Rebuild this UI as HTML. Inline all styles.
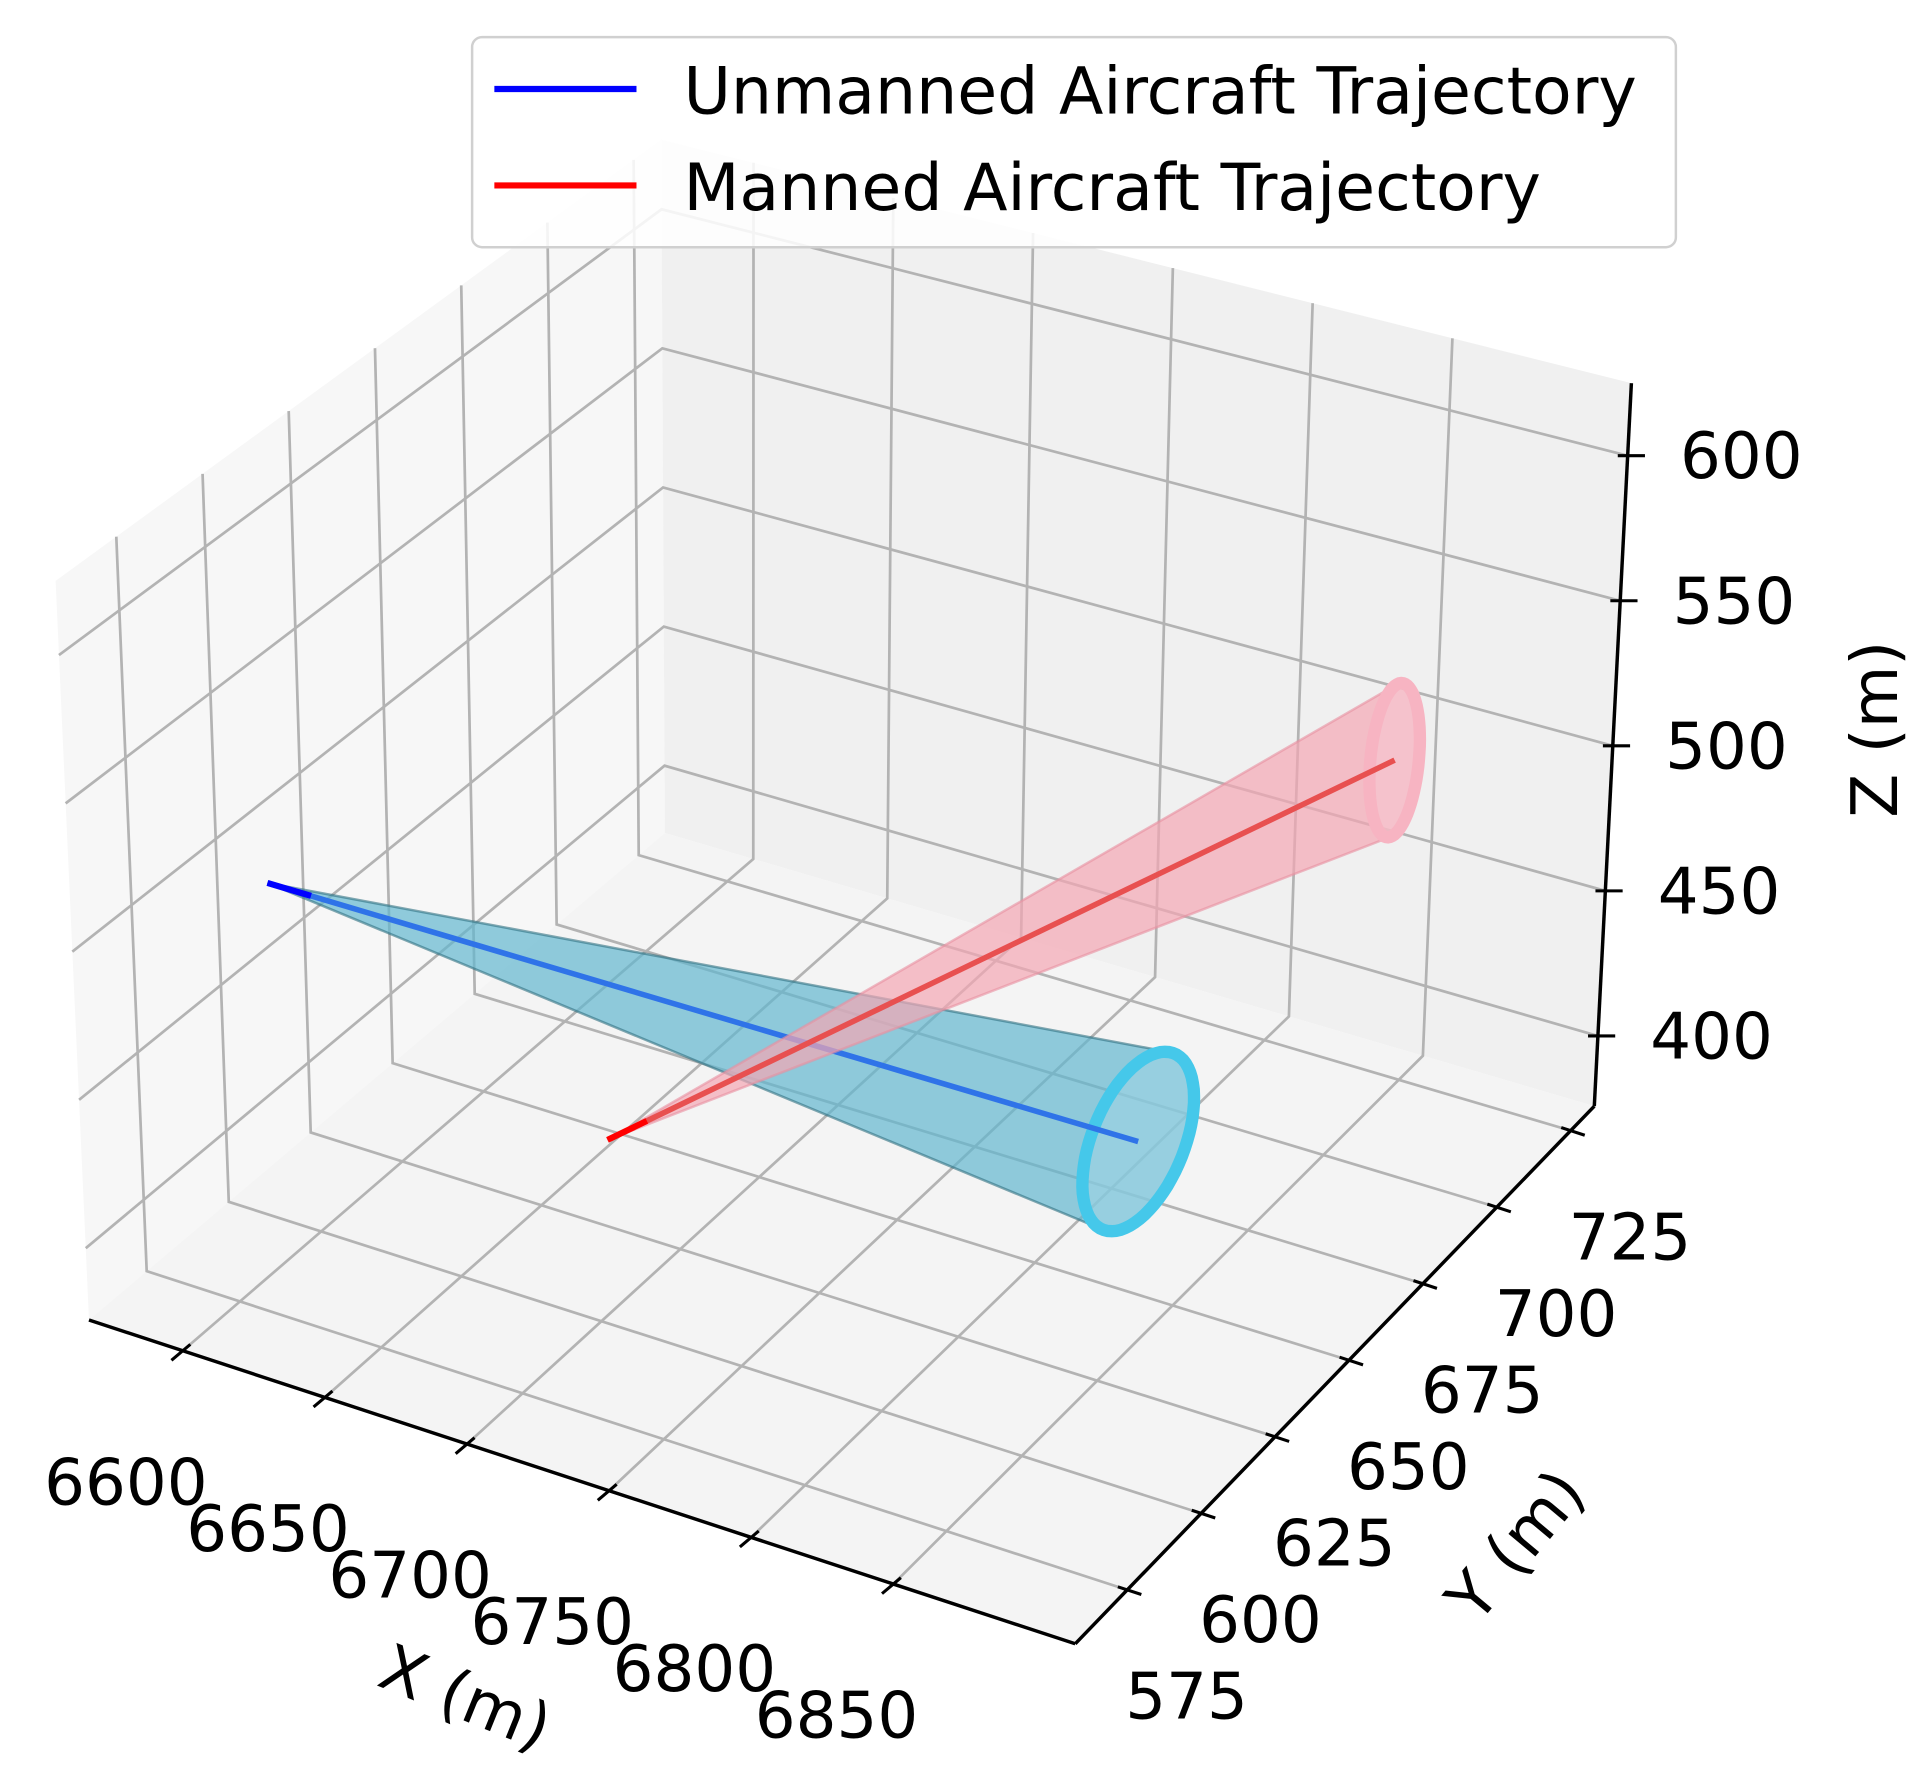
<!DOCTYPE html>
<html><head><meta charset="utf-8"><style>
html,body{margin:0;padding:0;background:#fff}
svg{display:block}
text{font-family:"DejaVu Sans","Liberation Sans",sans-serif;fill:#000}
</style></head><body>
<svg id="chart" width="1928" height="1790" viewBox="0 0 1560 1448.3" xmlns="http://www.w3.org/2000/svg">
<g id="panes"></g>
<g id="grid"></g>
<g id="axes"></g>
<g id="series"></g>
<g id="legend">
  <rect x="382" y="30" width="974" height="170" rx="8" fill="#fff" fill-opacity="0.85" stroke="#d0d0d0" stroke-width="2"/>
  <line x1="400" y1="72" x2="515" y2="72" stroke="#0000ff" stroke-width="5"/>
  <text x="553" y="92" font-size="52.5">Unmanned Aircraft Trajectory</text>
  <line x1="400" y1="150" x2="515" y2="150" stroke="#ff0000" stroke-width="5"/>
  <text x="553" y="170" font-size="52.5">Manned Aircraft Trajectory</text>
</g>
</svg>
<script>
// ---- data ----
const xTicks = [6600, 6650, 6700, 6750, 6800, 6850];
const yTicks = [575, 600, 625, 650, 675, 700, 725];
const zTicks = [400, 450, 500, 550, 600];
const xLim = [6567, 6914];
const yLim = [557.4, 733];
const zLim = [375.8, 625];
const unmannedStart = [6598, 589, 504];
const unmannedEnd = [6847, 640, 440];
const mannedStart = [6673, 626, 404];
const mannedEnd = [6860, 710, 504];
const unmannedRingA = [6.6, 2.0, 30];
const unmannedRingB = [13.2, 4.0, 0];
const mannedRingA = [1.0, 0.3, 26.5];
const mannedRingB = [6.6, 2.0, 0];

// ---- projection (screen corners of the axes box) ----
const A=[72,1068],B=[870,1330],C=[1290,895],D=[538,674];
const A2=[45,470],B2=[880,705],C2=[1320,310],D2=[535,113];
function bil(p00,p10,p11,p01,u,v){
  return [p00[0]*(1-u)*(1-v)+p10[0]*u*(1-v)+p11[0]*u*v+p01[0]*(1-u)*v,
          p00[1]*(1-u)*(1-v)+p10[1]*u*(1-v)+p11[1]*u*v+p01[1]*(1-u)*v];
}
function P(x,y,z){
  const u=(x-xLim[0])/(xLim[1]-xLim[0]), v=(y-yLim[0])/(yLim[1]-yLim[0]), w=(z-zLim[0])/(zLim[1]-zLim[0]);
  const b=bil(A,B,C,D,u,v), t=bil(A2,B2,C2,D2,u,v);
  return [b[0]*(1-w)+t[0]*w, b[1]*(1-w)+t[1]*w];
}
const NS="http://www.w3.org/2000/svg";
function mk(tag,attrs,parent){const e=document.createElementNS(NS,tag);for(const k in attrs)e.setAttribute(k,attrs[k]);parent.appendChild(e);return e;}
function pts(arr){return arr.map(p=>p[0].toFixed(1)+","+p[1].toFixed(1)).join(" ");}

const panes=document.getElementById('panes'),grid=document.getElementById('grid'),axes=document.getElementById('axes'),series=document.getElementById('series');
const [x0,x1]=xLim,[y0,y1]=yLim,[z0,z1]=zLim;
let e;
e=mk('polygon',{points:pts([P(x0,y0,z0),P(x0,y1,z0),P(x0,y1,z1),P(x0,y0,z1)]),fill:'#f7f7f7'},panes);


e=mk('polygon',{points:pts([P(x0,y1,z0),P(x1,y1,z0),P(x1,y1,z1),P(x0,y1,z1)]),fill:'#f0f0f0'},panes);


e=mk('polygon',{points:pts([P(x0,y0,z0),P(x1,y0,z0),P(x1,y1,z0),P(x0,y1,z0)]),fill:'#f4f4f4'},panes);



const gs={stroke:'#b3b3b3','stroke-width':2.2,fill:'none'};
function gl(pa,name){e=mk('polyline',Object.assign({points:pts(pa)},gs),grid);

}
xTicks.forEach(t=>gl([P(t,y0,z0),P(t,y1,z0),P(t,y1,z1)],'x-gridline'));
yTicks.forEach(t=>gl([P(x1,t,z0),P(x0,t,z0),P(x0,t,z1)],'y-gridline'));
zTicks.forEach(t=>gl([P(x0,y0,t),P(x0,y1,t),P(x1,y1,t)],'z-gridline'));

const as={stroke:'#000','stroke-width':2.8};
function ln(p,q,name,w){e=mk('line',Object.assign({x1:p[0],y1:p[1],x2:q[0],y2:q[1]},as,w?{'stroke-width':w}:{}),axes);

}
ln(P(x0,y0,z0),P(x1,y0,z0),'x-axis-line');
ln(P(x1,y0,z0),P(x1,y1,z0),'y-axis-line');
ln(P(x1,y1,z0),P(x1,y1,z1),'z-axis-line');
function unit(v){const l=Math.hypot(v[0],v[1]);return [v[0]/l,v[1]/l];}
const xd=unit([P(x0,y1,z0)[0]-P(x0,y0,z0)[0],P(x0,y1,z0)[1]-P(x0,y0,z0)[1]]);
xTicks.forEach(t=>{const p=P(t,y0,z0);ln([p[0]+xd[0]*8,p[1]+xd[1]*8],[p[0]-xd[0]*12,p[1]-xd[1]*12],'x-tick',2.5);
 e=mk('text',{x:p[0]-46,y:p[1]+110,'font-size':52,'text-anchor':'middle','dominant-baseline':'middle'},axes);e.textContent=t;
 
 });
const yd=unit([P(x0,y0,z0)[0]-P(x1,y0,z0)[0],P(x0,y0,z0)[1]-P(x1,y0,z0)[1]]);
yTicks.forEach(t=>{const p=P(x1,t,z0);ln([p[0]+yd[0]*8,p[1]+yd[1]*8],[p[0]-yd[0]*12,p[1]-yd[1]*12],'y-tick',2.5);
 e=mk('text',{x:p[0]+48,y:p[1]+90,'font-size':52,'text-anchor':'middle','dominant-baseline':'middle'},axes);e.textContent=t;
 
 });
zTicks.forEach(t=>{const p=P(x1,y1,t);ln([p[0]-8,p[1]],[p[0]+14,p[1]],'z-tick',2.5);
 e=mk('text',{x:p[0]+92,y:p[1]+4,'font-size':52,'text-anchor':'middle','dominant-baseline':'middle'},axes);e.textContent=t;
 
 });
e=mk('text',{x:0,y:0,'font-size':52,'text-anchor':'middle',transform:'translate(370,1390) rotate(22)'},axes);e.textContent='X (m)';


e=mk('text',{x:0,y:0,'font-size':52,'text-anchor':'middle',transform:'translate(1240,1262) rotate(-50)'},axes);e.textContent='Y (m)';


e=mk('text',{x:0,y:0,'font-size':52,'text-anchor':'middle',transform:'translate(1535,590) rotate(-90)'},axes);e.textContent='Z (m)';



// ---- cones ----
function hull(p){p=p.slice().sort((a,b)=>a[0]-b[0]||a[1]-b[1]);const cr=(o,a,b)=>(a[0]-o[0])*(b[1]-o[1])-(a[1]-o[1])*(b[0]-o[0]);
 const lo=[],up=[];for(const q of p){while(lo.length>=2&&cr(lo[lo.length-2],lo[lo.length-1],q)<=0)lo.pop();lo.push(q);}
 for(let i=p.length-1;i>=0;i--){const q=p[i];while(up.length>=2&&cr(up[up.length-2],up[up.length-1],q)<=0)up.pop();up.push(q);}
 up.pop();lo.pop();return lo.concat(up);}
function cone(s,t,ra,rb,fill,edge,ring,ringFill,rw,line,lineEnd,name){
 const ringPts=[];for(let i=0;i<72;i++){const a=i/72*2*Math.PI;const c=Math.cos(a),sn=Math.sin(a);
  ringPts.push(P(t[0]+ra[0]*c+rb[0]*sn,t[1]+ra[1]*c+rb[1]*sn,t[2]+ra[2]*c+rb[2]*sn));}
 const ps=P(s[0],s[1],s[2]),pt=P(t[0],t[1],t[2]);
 e=mk('polygon',{points:pts(hull(ringPts.concat([ps]))),fill:fill,'fill-opacity':0.7,stroke:edge,'stroke-opacity':0.6,'stroke-width':2},series);
 
 
 e=mk('polygon',{points:pts(ringPts),fill:ringFill,'fill-opacity':0.5,stroke:ring,'stroke-width':rw},series);
 
 
 e=mk('line',{x1:ps[0],y1:ps[1],x2:pt[0],y2:pt[1],stroke:line,'stroke-width':4.5},series);
 
 
 e=mk('line',{x1:ps[0],y1:ps[1],x2:ps[0]+(pt[0]-ps[0])*0.05,y2:ps[1]+(pt[1]-ps[1])*0.05,stroke:lineEnd,'stroke-width':5},series);
 
 
}
cone(unmannedStart,unmannedEnd,unmannedRingA,unmannedRingB,'#62b6cf','#2f6f80','#45c8ea','#a0d6e6',10,'#2f73e8','#0000ff','unmanned');
cone(mannedStart,mannedEnd,mannedRingA,mannedRingB,'#f4a6b4','#e890a0','#f7b4c2','#f8c8d2',10,'#e85050','#ff0000','manned');
</script>
</body></html>
